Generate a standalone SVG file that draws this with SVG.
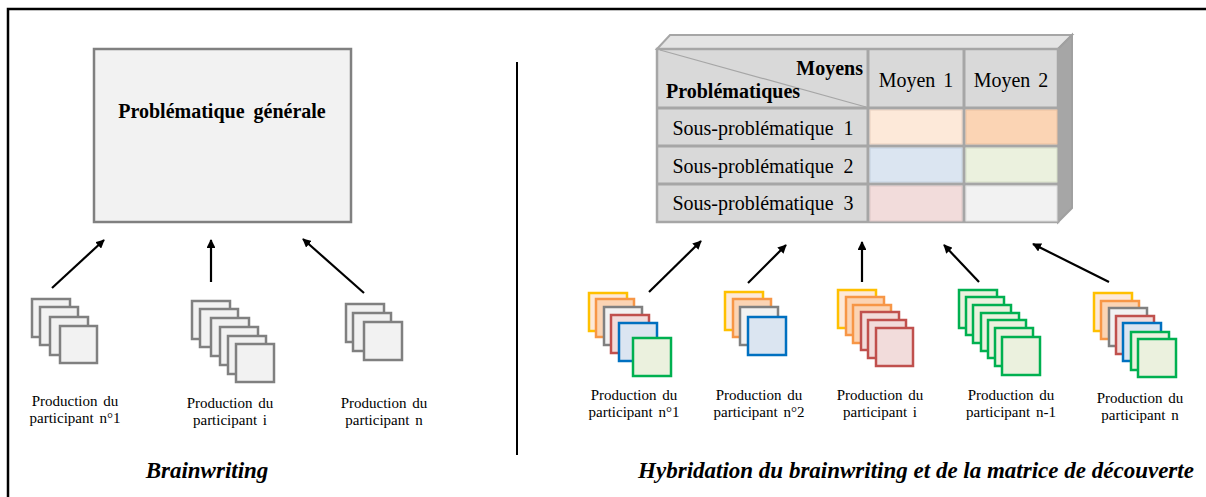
<svg xmlns="http://www.w3.org/2000/svg" width="1206" height="497" viewBox="0 0 1206 497">
<defs>
<marker id="ah" viewBox="0 0 10 10" refX="9" refY="5" markerWidth="4" markerHeight="4" orient="auto" markerUnits="strokeWidth">
<path d="M0,0 L10,5 L0,10 z" fill="#000"/>
</marker>
</defs>
<style>
text{font-family:"Liberation Serif","Times New Roman",serif;fill:#000}
.lbl{font-size:15px;text-anchor:middle;word-spacing:2px}
.ttl{font-size:23px;font-weight:bold;font-style:italic;text-anchor:middle}
.mx{font-size:20px}
.gr{fill:#f2f2f2;stroke:#808080;stroke-width:2.5}
.ye{fill:#fde9d9;stroke:#ffc000;stroke-width:2.5}
.or{fill:#fbd4b4;stroke:#f79646;stroke-width:2.5}
.rd{fill:#f2dcdb;stroke:#c0504d;stroke-width:2.5}
.bl{fill:#dbe5f1;stroke:#0070c0;stroke-width:2.5}
.gn{fill:#ebf1de;stroke:#00b050;stroke-width:2.5}
.arr{stroke:#000;stroke-width:2.2;fill:none;marker-end:url(#ah)}
.grid{stroke:#a6a6a6;stroke-width:3}
</style>
<rect x="8" y="9" width="1220" height="510" fill="#fff" stroke="#000" stroke-width="2.5"/>
<line x1="517" y1="62" x2="517" y2="455" stroke="#000" stroke-width="2"/>

<g id="problematique-generale">
<rect x="94" y="49" width="257" height="173" fill="#f2f2f2" stroke="#808080" stroke-width="2.5"/>
<text x="222" y="118" font-size="20" font-weight="bold" text-anchor="middle" word-spacing="4">Problématique générale</text>
</g>

<g id="left-p1">
<rect class="gr" x="32" y="299" width="38" height="38"/>
<rect class="gr" x="40" y="307" width="38" height="38"/>
<rect class="gr" x="50" y="317" width="38" height="38"/>
<rect class="gr" x="60" y="326" width="37" height="37"/>
<text class="lbl" x="75" y="406">Production du</text>
<text class="lbl" x="75" y="423">participant n°1</text>
</g>
<g id="left-pi">
<rect class="gr" x="192" y="301" width="38" height="38"/>
<rect class="gr" x="200" y="309" width="38" height="38"/>
<rect class="gr" x="211" y="318" width="38" height="38"/>
<rect class="gr" x="220" y="327" width="38" height="38"/>
<rect class="gr" x="228" y="336" width="38" height="38"/>
<rect class="gr" x="236" y="344" width="38" height="38"/>
<text class="lbl" x="230" y="408">Production du</text>
<text class="lbl" x="230" y="425">participant i</text>
</g>
<g id="left-pn">
<rect class="gr" x="346" y="304" width="38" height="38"/>
<rect class="gr" x="353" y="313" width="38" height="38"/>
<rect class="gr" x="364" y="322" width="38" height="38"/>
<text class="lbl" x="384" y="408">Production du</text>
<text class="lbl" x="384" y="425">participant n</text>
</g>
<text id="title-left" class="ttl" x="207" y="478">Brainwriting</text>

<g id="matrice">
<polygon points="657,49 670,35 1072,35 1058,49" fill="#e4e4e4" stroke="#a6a6a6" stroke-width="2"/>
<polygon points="1058,49 1072,35 1072,208 1058,222" fill="#a6a6a6" stroke="#a0a0a0" stroke-width="2"/>
<rect x="657" y="49" width="401" height="173" fill="#d9d9d9" stroke="#a6a6a6" stroke-width="2.5"/>
<line x1="660" y1="50" x2="866" y2="107" stroke="#a6a6a6" stroke-width="1.2"/>
<line class="grid" x1="868" y1="49" x2="868" y2="222"/>
<line class="grid" x1="964" y1="49" x2="964" y2="222"/>
<line class="grid" x1="657" y1="108" x2="1058" y2="108"/>
<line class="grid" x1="657" y1="146" x2="1058" y2="146"/>
<line class="grid" x1="657" y1="184" x2="1058" y2="184"/>
<rect x="870" y="110" width="92" height="34" fill="#fde9d9" stroke="#e8d0c0" stroke-width="1"/>
<rect x="966" y="110" width="91" height="34" fill="#fbd4b4" stroke="#e9c0a0" stroke-width="1"/>
<rect x="870" y="148" width="92" height="34" fill="#dbe5f1" stroke="#c4d0de" stroke-width="1"/>
<rect x="966" y="148" width="91" height="34" fill="#ebf1de" stroke="#d4dcc6" stroke-width="1"/>
<rect x="870" y="186" width="92" height="35" fill="#f2dcdb" stroke="#dcc6c5" stroke-width="1"/>
<rect x="966" y="186" width="91" height="35" fill="#f2f2f2" stroke="#dddddd" stroke-width="1"/>
<text class="mx" x="863" y="75" font-weight="bold" text-anchor="end">Moyens</text>
<text class="mx" x="666" y="98" font-weight="bold">Problématiques</text>
<text class="mx" x="916" y="87" text-anchor="middle" word-spacing="3">Moyen 1</text>
<text class="mx" x="1011" y="87" text-anchor="middle" word-spacing="3">Moyen 2</text>
<text class="mx" x="763" y="135" text-anchor="middle" word-spacing="5">Sous-problématique 1</text>
<text class="mx" x="763" y="173" text-anchor="middle" word-spacing="5">Sous-problématique 2</text>
<text class="mx" x="763" y="210" text-anchor="middle" word-spacing="5">Sous-problématique 3</text>
</g>

<g id="right-p1">
<rect class="ye" x="589" y="293" width="38" height="38"/>
<rect class="or" x="596" y="299" width="38" height="38"/>
<rect class="gr" x="604" y="307" width="38" height="38"/>
<rect class="rd" x="611" y="315" width="38" height="38"/>
<rect class="bl" x="619" y="323" width="38" height="38"/>
<rect class="gn" x="633" y="338" width="38" height="38"/>
<text class="lbl" x="634" y="400">Production du</text>
<text class="lbl" x="634" y="417">participant n°1</text>
</g>
<g id="right-p2">
<rect class="ye" x="725" y="292" width="38" height="38"/>
<rect class="or" x="733" y="299" width="38" height="38"/>
<rect class="gr" x="740" y="307" width="38" height="38"/>
<rect class="bl" x="748" y="317" width="38" height="38"/>
<text class="lbl" x="759" y="400">Production du</text>
<text class="lbl" x="759" y="417">participant n°2</text>
</g>
<g id="right-pi">
<rect class="ye" x="838" y="290" width="38" height="38"/>
<rect class="or" x="846" y="297" width="38" height="38"/>
<rect class="or" x="853" y="305" width="38" height="38"/>
<rect class="rd" x="861" y="312" width="38" height="38"/>
<rect class="rd" x="868" y="320" width="38" height="38"/>
<rect class="rd" x="876" y="328" width="37" height="38"/>
<text class="lbl" x="880" y="400">Production du</text>
<text class="lbl" x="880" y="417">participant i</text>
</g>
<g id="right-pn1">
<rect class="gn" x="959" y="290" width="38" height="38"/>
<rect class="gn" x="966" y="297" width="38" height="38"/>
<rect class="gn" x="973" y="305" width="38" height="38"/>
<rect class="gn" x="981" y="313" width="38" height="38"/>
<rect class="gn" x="988" y="320" width="38" height="38"/>
<rect class="gn" x="995" y="328" width="38" height="38"/>
<rect class="gn" x="1002" y="337" width="38" height="38"/>
<text class="lbl" x="1011" y="400">Production du</text>
<text class="lbl" x="1011" y="417">participant n-1</text>
</g>
<g id="right-pn">
<rect class="ye" x="1094" y="293" width="38" height="38"/>
<rect class="or" x="1101" y="301" width="38" height="38"/>
<rect class="gr" x="1109" y="308" width="38" height="38"/>
<rect class="rd" x="1116" y="316" width="38" height="38"/>
<rect class="bl" x="1123" y="323" width="38" height="38"/>
<rect class="gn" x="1131" y="332" width="38" height="38"/>
<rect class="gn" x="1138" y="339" width="38" height="38"/>
<text class="lbl" x="1140" y="403">Production du</text>
<text class="lbl" x="1140" y="420">participant n</text>
</g>
<text id="title-right" class="ttl" x="916" y="478">Hybridation du brainwriting et de la matrice de découverte</text>

<g id="connectors">
<line class="arr" x1="52" y1="288" x2="104" y2="240"/>
<line class="arr" x1="211" y1="282" x2="211" y2="240"/>
<line class="arr" x1="364" y1="293" x2="303" y2="239"/>
<line class="arr" x1="649" y1="292" x2="701" y2="241"/>
<line class="arr" x1="748" y1="283" x2="786" y2="245"/>
<line class="arr" x1="862" y1="282" x2="862" y2="242"/>
<line class="arr" x1="979" y1="282" x2="944" y2="245"/>
<line class="arr" x1="1109" y1="282" x2="1033" y2="244"/>
</g>
</svg>
